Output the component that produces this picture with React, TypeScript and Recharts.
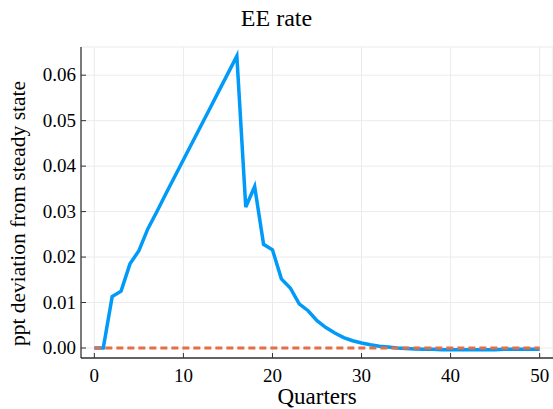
// EE rate: impulse response, deviation from steady state
import { LineChart, Line, XAxis, YAxis, CartesianGrid } from 'recharts';

const QUARTERS = Array.from({ length: 51 }, (_, i) => i);

const EE_RATE = [
  0, 0, 0.0113, 0.0125, 0.0185, 0.0214, 0.0262, 0.0299, 0.0338, 0.0376,
  0.0414, 0.0452, 0.049, 0.0528, 0.0566, 0.0604, 0.0642, 0.031, 0.0355, 0.0228,
  0.0216, 0.0152, 0.0132, 0.0097, 0.0082, 0.006, 0.0045, 0.0033, 0.0023, 0.0016,
  0.0011, 0.0007, 0.0004, 0.0002, 0.0, -0.0001, -0.0002, -0.0003, -0.0003, -0.0004,
  -0.0004, -0.0004, -0.0004, -0.0004, -0.0004, -0.0004, -0.0003, -0.0003, -0.0003, -0.0003,
  -0.0003,
];

const STEADY_STATE = QUARTERS.map(() => 0);

const X_TICKS = [0, 10, 20, 30, 40, 50];
const Y_TICKS = [0, 0.01, 0.02, 0.03, 0.04, 0.05, 0.06];

const FONT = '"Liberation Serif", "Times New Roman", serif';
const BLUE = '#009af9';
const ORANGE = '#e26f46';

const data = QUARTERS.map((q, i) => ({ q, ee: EE_RATE[i], ss: STEADY_STATE[i] }));

function YTick(props: any) {
  const { x, y, payload } = props;
  return (
    <g>
      <line x1={x + 8} x2={x + 13} y1={y} y2={y} stroke="#333" strokeWidth={1} />
      <text x={x + 3} y={y} dy={6} textAnchor="end" style={{ fontFamily: FONT, fontSize: 19 }} fill="#000">
        {payload.value.toFixed(2)}
      </text>
    </g>
  );
}

function XTick(props: any) {
  const { x, y, payload } = props;
  return (
    <g>
      <line x1={x} x2={x} y1={y - 8} y2={y - 13} stroke="#333" strokeWidth={1} />
      <text x={x} y={y} dy={16} textAnchor="middle" style={{ fontFamily: FONT, fontSize: 19 }} fill="#000">
        {payload.value}
      </text>
    </g>
  );
}

// rotated y label, centred on the plot height
function YLabel(props: any) {
  const { viewBox } = props;
  const cx = viewBox.x + 25;
  const cy = viewBox.y + viewBox.height / 2 + 11;
  return (
    <text
      x={cx}
      y={cy}
      transform={`rotate(-90, ${cx}, ${cy})`}
      textAnchor="middle"
      style={{ fontFamily: FONT, fontSize: 21.5 }}
      fill="#000"
    >
      ppt deviation from steady state
    </text>
  );
}

export default function App() {
  return (
    <div style={{ position: 'absolute', left: 0, top: 0, width: 553, height: 409, background: '#fff' }}>
      <div
        style={{
          position: 'absolute', left: 0, top: 5, width: 553, textAlign: 'center',
          fontFamily: FONT, fontSize: 24, lineHeight: '26px', color: '#000',
        }}
      >
        EE rate
      </div>
      <LineChart width={553} height={409} data={data} margin={{ top: 47, right: 0, bottom: 0, left: 0 }}>
        <CartesianGrid stroke="#ebebeb" strokeWidth={1} />
        <XAxis
          dataKey="q"
          type="number"
          domain={[-1.5, 51.5]}
          ticks={X_TICKS}
          tick={<XTick />}
          tickLine={false}
          axisLine={{ stroke: '#333', strokeWidth: 1.5 }}
          height={51}
          label={{
            value: 'Quarters', position: 'insideBottom', offset: 5,
            style: { fontFamily: FONT, fontSize: 23 }, fill: '#000',
          }}
        />
        <YAxis
          type="number"
          domain={[-0.0022, 0.0662]}
          ticks={Y_TICKS}
          tick={<YTick />}
          tickLine={false}
          axisLine={{ stroke: '#000', strokeWidth: 1 }}
          width={81}
          label={{ content: <YLabel /> }}
        />
        <Line dataKey="ee" stroke={BLUE} strokeWidth={3.5} dot={false} isAnimationActive={false} />
        <Line dataKey="ss" stroke={ORANGE} strokeWidth={3} strokeDasharray="7 4" dot={false} isAnimationActive={false} />
      </LineChart>
    </div>
  );
}
